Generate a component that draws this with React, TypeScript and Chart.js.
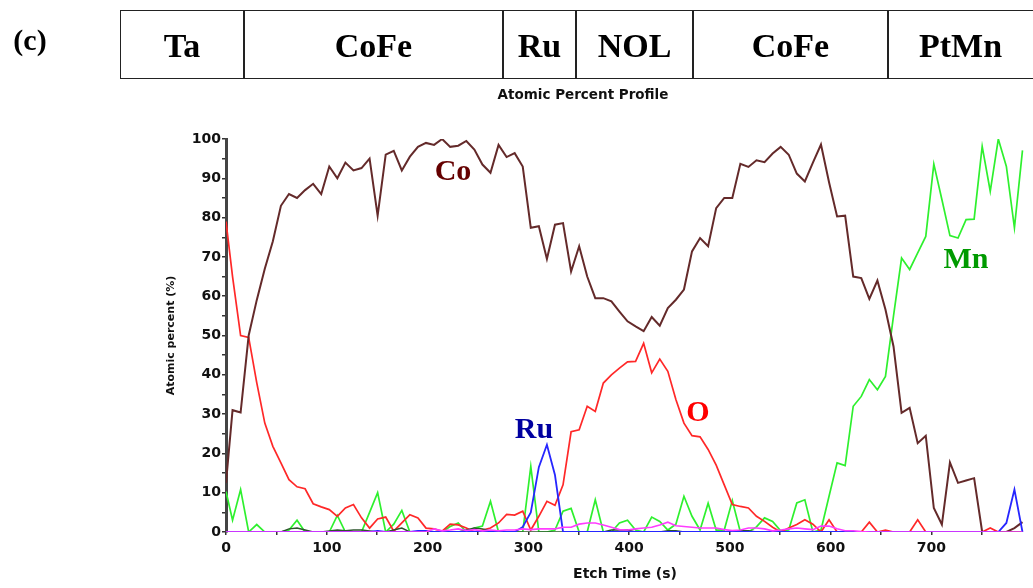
import React, { useEffect, useRef } from "react";
import Chart from "chart.js/auto";

// Etch time (s) of each sample
const etchTimes = [
  0, 6.5, 14.5, 22.5, 30.5, 38.5, 46.5, 54.5, 62.5, 70.5,
  78.5, 86.5, 94.5, 102.5, 110.5, 118.5, 126.5, 134.5, 142.5, 150.5,
  158.5, 166.5, 174.5, 182.5, 190.5, 198.5, 206.5, 214.5, 222.5, 230.5,
  238.5, 246.5, 254.5, 262.5, 270.5, 278.5, 286.5, 294.5, 302.5, 310.5,
  318.5, 326.5, 334.5, 342.5, 350.5, 358.5, 366.5, 374.5, 382.5, 390.5,
  398.5, 406.5, 414.5, 422.5, 430.5, 438.5, 446.5, 454.5, 462.5, 470.5,
  478.5, 486.5, 494.5, 502.5, 510.5, 518.5, 526.5, 534.5, 542.5, 550.5,
  558.5, 566.5, 574.5, 582.5, 590.5, 598.5, 606.5, 614.5, 622.5, 630.5,
  638.5, 646.5, 654.5, 662.5, 670.5, 678.5, 686.5, 694.5, 702.5, 710.5,
  718.5, 726.5, 734.5, 742.5, 750.5, 758.5, 766.5, 774.5, 782.5, 790.5,
];

const coPercent = [
  12.5, 31, 30.4, 50, 59, 67, 74, 83, 86, 85,
  87, 88.6, 86, 93, 90, 94, 92, 92.6, 95, 80.5,
  96, 97, 92, 95.5, 98, 99, 98.5, 100, 98, 98.3,
  99.5, 97.3, 93.5, 91.4, 98.5, 95.4, 96.4, 93, 77.4, 77.8,
  69.5, 78.2, 78.6, 66.3, 72.7, 65, 59.5, 59.5, 58.7, 56.1,
  53.6, 52.3, 51.1, 54.7, 52.5, 57, 59.1, 61.7, 71.4, 74.8,
  72.7, 82.4, 85, 85, 93.7, 92.9, 94.6, 94.1, 96.3, 98,
  96, 91.2, 89.2, 94, 98.6, 89, 80.3, 80.5, 65, 64.6,
  59.3, 64, 56.6, 47.2, 30.3, 31.6, 22.6, 24.5, 6.1, 1.9,
  17.7, 12.5, 13.1, 13.7, 0, 0, 0, 0, 1, 2.5,
];

const oPercent = [
  79, 65, 50, 49.5, 38, 27.7, 21.8, 17.6, 13.3, 11.5,
  11, 7.2, 6.4, 5.7, 4, 6.1, 7, 3.6, 1, 3.3,
  3.8, 0.2, 2.3, 4.4, 3.6, 1, 0.8, 0.2, 2, 1.8,
  1, 0, 0.5, 1, 2.3, 4.5, 4.3, 5.3, 0.5, 4,
  7.8, 6.8, 12, 25.5, 26, 32, 30.7, 37.9, 40, 41.7,
  43.3, 43.4, 48, 40.5, 44, 40.9, 33.7, 27.7, 24.5, 24.2,
  21, 17, 12, 7, 6.5, 6.1, 4, 2.7, 1.2, 0,
  1, 1.9, 3.1, 2, 0, 3.1, 0, 0, 0, 0,
  2.5, 0, 0.5, 0, 0, 0, 3.1, 0, 0, 0,
  0, 0, 0, 0, 0, 1, 0, 0, 0, 0,
];

const mnPercent = [
  10.3, 3, 10.8, 0, 1.9, 0, 0, 0, 0.5, 3,
  0, 0, 0, 0, 4.2, 0, 0, 0, 5, 10,
  0, 2, 5.5, 0, 0, 0, 0, 0, 1.4, 2.3,
  0, 1, 1.5, 7.8, 0, 0, 0, 0, 16.7, 0,
  0, 0.5, 5.3, 6, 0, 0, 8.2, 0, 0, 2.3,
  3, 0.5, 0, 3.8, 2.7, 0.5, 2, 9.1, 4, 0.5,
  7.3, 0.5, 0.5, 8, 0, 0, 1.3, 3.6, 2.7, 0.3,
  0.5, 7.4, 8.2, 0, 0.5, 9.1, 17.6, 16.9, 32, 34.5,
  38.8, 36.2, 39.6, 55, 69.7, 66.8, 71, 75.2, 93.6, 84.6,
  75.4, 74.8, 79.5, 79.6, 98.1, 86.7, 100, 93, 77.4, 97.1,
];

const ruPercent = [
  0, 0, 0, 0, 0, 0, 0, 0, 0, 0,
  0, 0, 0, 0, 0, 0, 0, 0, 0, 0.3,
  0, 0, 0, 0, 0.3, 0.3, 0, 0, 0, 0,
  0, 0, 0, 0, 0, 0, 0, 1.3, 5, 16.5,
  22.2, 14.5, 0, 0, 0, 0, 0, 0, 0, 0,
  0, 0, 0, 0, 0, 0, 0, 0, 0, 0,
  0, 0, 0, 0, 0, 0, 0, 0, 0, 0,
  0, 0, 0, 0, 0, 0, 0, 0, 0, 0,
  0, 0, 0, 0, 0, 0, 0, 0, 0, 0,
  0, 0, 0, 0, 0, 0, 0, 2.3, 10.8, 0,
];

const ptPercent = [
  0, 0, 0, 0, 0, 0, 0, 0, 0, 0,
  0, 0, 0, 0, 0, 0, 0, 0, 0, 0,
  0, 0, 0, 0, 0, 0, 0.8, 0.3, 0.5, 0.8,
  0.4, 0.6, 0.3, 0.5, 0.3, 0.5, 0.5, 0.8, 0.6, 0.8,
  0.8, 0.8, 1.2, 1.2, 2, 2.3, 2.3, 1.8, 1.2, 0.6,
  0.5, 0.8, 1, 1.2, 1.8, 2.5, 1.6, 1.4, 1.2, 1,
  1, 1, 0.6, 0.4, 0.5, 1, 1, 0.8, 0.3, 0.5,
  0.8, 1, 0.8, 0.6, 1.5, 1.5, 0.8, 0.3, 0.3, 0.1,
  0, 0, 0, 0, 0, 0, 0, 0, 0, 0,
  0, 0, 0, 0, 0, 0, 0, 0, 0, 0,
];

const fePercent = [
  0, 0, 0, 0, 0, 0, 0, 0, 0.8, 1,
  0.5, 0, 0, 0.3, 0.5, 0.3, 0.5, 0.5, 0.3, 0,
  0, 0.5, 1, 0, 0, 0, 0, 0, 0, 0,
  0.5, 1, 0.8, 0.3, 0, 0, 0, 0, 0, 0,
  0, 0, 0, 0, 0, 0, 0, 0, 0.5, 0.5,
  0.5, 0, 0, 0, 0, 0.3, 0.3, 0, 0, 0,
  0, 0, 0, 0.3, 0.3, 0.3, 0, 0, 0, 0,
  0, 0, 0, 0, 0, 0, 0, 0, 0, 0,
  0, 0, 0, 0, 0, 0, 0, 0, 0, 0,
  0, 0, 0, 0, 0, 0, 0, 0, 0, 0,
];

const xTickStep = 50;
const yTickStep = 5;
const layerNames = ["Ta", "CoFe", "Ru", "NOL", "CoFe", "PtMn"];
const layerEdges = [120, 244, 503, 576, 693, 888, 1040];

const serif = '"Liberation Serif", "Times New Roman", serif';
const sans = '"DejaVu Sans", Arial, sans-serif';

export default function App() {
  const ref = useRef<HTMLCanvasElement>(null);

  useEffect(() => {
    const canvas = ref.current;
    if (!canvas) return;
    const mk = (label: string, values: number[], color: string, width: number, order: number) => ({
      label,
      data: etchTimes.map((t, i) => ({ x: t, y: values[i] })),
      borderColor: color,
      backgroundColor: color,
      borderWidth: width,
      pointRadius: 0,
      pointHoverRadius: 0,
      tension: 0,
      fill: false,
      order,
    });
    const chart = new Chart(canvas, {
      type: "line",
      data: {
        datasets: [
          mk("Pt", ptPercent, "#ff3cff", 1.6, 1),
          mk("Ru", ruPercent, "#2626ff", 1.8, 2),
          mk("Fe", fePercent, "#2c552c", 1.4, 3),
          mk("Co", coPercent, "#642a2a", 2, 4),
          mk("O", oPercent, "#ff2828", 1.7, 5),
          mk("Mn", mnPercent, "#2ef02e", 1.7, 6),
        ],
      },
      options: {
        animation: false,
        responsive: false,
        devicePixelRatio: 1,
        layout: { padding: { left: 150, top: 139, right: 9, bottom: 0 } },
        plugins: { legend: { display: false }, tooltip: { enabled: false } },
        scales: {
          x: {
            type: "linear",
            min: 0,
            max: 792,
            afterFit: (s: any) => {
              s.height = 56;
            },
            border: { display: false },
            grid: { drawOnChartArea: false, drawTicks: true, tickLength: 3, color: "#333", lineWidth: 1.5 },
            ticks: {
              stepSize: xTickStep,
              includeBounds: false,
              autoSkip: false,
              maxRotation: 0,
              padding: 5,
              color: "#111",
              font: { family: sans, weight: "bold", size: 14 },
              callback: (v: any) => (Number(v) % 100 === 0 ? String(v) : ""),
            },
            title: {
              display: true,
              text: "Etch Time (s)",
              color: "#111",
              font: { family: sans, weight: "bold", size: 14 },
              padding: { top: 0, bottom: 5 },
            },
          },
          y: {
            min: 0,
            max: 100,
            afterFit: (s: any) => {
              s.width = 76;
            },
            border: { display: true, width: 3, color: "#444" },
            grid: { drawOnChartArea: false, drawTicks: true, tickLength: 4, color: "#333", lineWidth: 1.5 },
            ticks: {
              stepSize: yTickStep,
              autoSkip: false,
              padding: 1,
              color: "#111",
              font: { family: sans, weight: "bold", size: 14 },
              callback: (v: any) => (Number(v) % 10 === 0 ? String(v) : ""),
            },
            title: {
              display: true,
              text: "Atomic percent (%)",
              color: "#111",
              font: { family: sans, weight: "bold", size: 11 },
              padding: { top: 15, bottom: 0 },
            },
          },
        },
      },
    } as any);
    return () => chart.destroy();
  }, []);

  const label = (text: string, x: number, y: number, color: string, size: number) => (
    <div
      key={text + x}
      style={{
        position: "absolute",
        left: x,
        top: y,
        transform: "translate(-50%, -50%)",
        fontFamily: serif,
        fontWeight: "bold",
        fontSize: size,
        lineHeight: 1,
        color,
        whiteSpace: "nowrap",
      }}
    >
      {text}
    </div>
  );

  return (
    <div style={{ position: "fixed", left: 0, top: 0, width: 1033, height: 588, background: "#fff", overflow: "hidden" }}>
      <canvas ref={ref} width={1033} height={588} style={{ position: "absolute", left: 0, top: 0 }} />
      {label("(c)", 30, 40, "#000", 30)}
      <div
        style={{
          position: "absolute",
          left: layerEdges[0],
          top: 10,
          width: layerEdges[layerEdges.length - 1] - layerEdges[0],
          height: 69,
          border: "1.5px solid #222",
          boxSizing: "border-box",
        }}
      />
      {layerEdges.slice(1, -1).map((x) => (
        <div key={"d" + x} style={{ position: "absolute", left: x - 0.75, top: 10, width: 1.5, height: 69, background: "#222" }} />
      ))}
      {layerNames.map((n, i) => label(n, (layerEdges[i] + Math.min(layerEdges[i + 1], 1033)) / 2, 46, "#000", 34))}
      <div
        style={{
          position: "absolute",
          left: 583,
          top: 95,
          transform: "translate(-50%, -50%)",
          fontFamily: sans,
          fontWeight: "bold",
          fontSize: 13.5,
          lineHeight: 1,
          color: "#111",
          whiteSpace: "nowrap",
        }}
      >
        Atomic Percent Profile
      </div>
      {label("Co", 453, 170, "#650000", 30)}
      {label("O", 698, 411, "#ff0000", 30)}
      {label("Ru", 534, 428, "#0000a0", 30)}
      {label("Mn", 966, 258, "#009a00", 30)}
    </div>
  );
}
